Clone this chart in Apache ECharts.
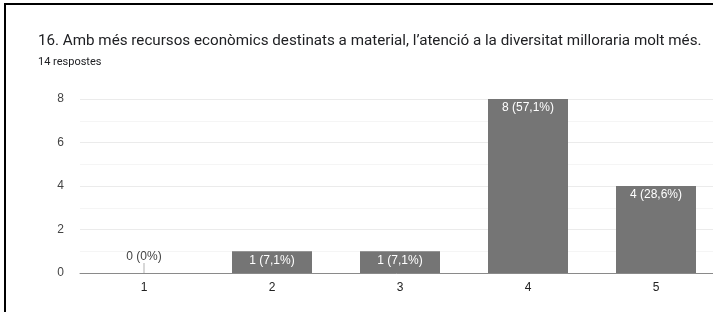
<!DOCTYPE html>
<html>
<head>
	<meta charset="utf-8">
	<title>16. Amb més recursos econòmics</title>
	<script src="https://cdn.jsdelivr.net/npm/echarts@6/dist/echarts.min.js"></script>
	<style>
	  body{
		margin: 0;
		background: #fff;
	  }
	  #chart{
		position: absolute;
		left: 0;
		top: 0;
		width: 713px;
		height: 312px;
	  }
	  .frame{
		position: absolute;
		left: 4px;
		top: 3px;
		width: 709px;
		height: 309px;
		border-top: 2px solid #000;
		border-left: 2px solid #000;
		pointer-events: none;
	  }
	</style>
</head>
<body>
<div id="chart"></div>
<div class="frame"></div>

<script>
	var title = '16. Amb més recursos econòmics destinats a material, l\u2019atenció a la diversitat milloraria molt més.';
	var subtitle = '14 respostes';

	// dades
	var categories = ['1', '2', '3', '4', '5'];
	var counts = [0, 1, 1, 8, 4];
	var percents = ['0%', '7,1%', '7,1%', '57,1%', '28,6%'];
	var yTicks = [0, 2, 4, 6, 8];

	var barData = counts.map(function(v, i){
		var item = { value: v };
		if(v === 0){
			// valor zero: etiqueta a sobre, amb un petit pal
			item.label = { position: 'top', distance: 10, color: '#444' };
		}
		return item;
	});

	// pal per als valors zero
	var stemData = [];
	counts.forEach(function(v, i){
		if(v === 0) stemData.push([categories[i], 0]);
	});

	var option = {
		animation: false,
		title: {
			text: title,
			subtext: subtitle,
			left: 33,
			top: 27,
			itemGap: 5,
			textStyle: {
				fontFamily: 'Roboto',
				fontSize: 15.2,
				fontWeight: 'normal',
				color: '#202124',
				lineHeight: 18
			},
			subtextStyle: {
				fontFamily: 'Roboto',
				fontSize: 11,
				color: '#202124',
				lineHeight: 14
			}
		},
		grid: {
			left: 80,
			width: 640,
			top: 99,
			bottom: 39,
			containLabel: false,
			outerBoundsMode: 'none'
		},
		xAxis: {
			type: 'category',
			data: categories,
			axisTick: { show: false },
			axisLine: { lineStyle: { color: '#8a8a8a', width: 1 } },
			axisLabel: {
				margin: 9,
				fontFamily: 'Arial',
				fontSize: 12,
				color: '#222'
			}
		},
		yAxis: {
			type: 'value',
			min: yTicks[0],
			max: yTicks[yTicks.length - 1],
			interval: 2,
			axisLine: { show: false },
			axisTick: { show: false },
			axisLabel: {
				margin: 16,
				fontFamily: 'Arial',
				fontSize: 12,
				color: '#444'
			},
			splitLine: { lineStyle: { color: '#ebebeb' } },
			minorTick: { show: false, splitNumber: 2 },
			minorSplitLine: { show: true, lineStyle: { color: '#f5f5f5' } }
		},
		series: [
			{
				type: 'bar',
				data: barData,
				barWidth: 80,
				itemStyle: { color: '#757575' },
				label: {
					show: true,
					position: 'insideTop',
					distance: 3,
					fontFamily: 'Arial',
					fontSize: 12,
					color: '#fff',
					formatter: function(p){
						return counts[p.dataIndex] + ' (' + percents[p.dataIndex] + ')';
					}
				}
			},
			{
				type: 'scatter',
				data: stemData,
				symbol: 'rect',
				symbolSize: [1, 10],
				symbolOffset: [0, -5],
				itemStyle: { color: '#9e9e9e' },
				silent: true,
				z: 1
			}
		]
	};

	var myChart = echarts.init(document.getElementById('chart'));
	myChart.setOption(option);
</script>
</body>
</html>
